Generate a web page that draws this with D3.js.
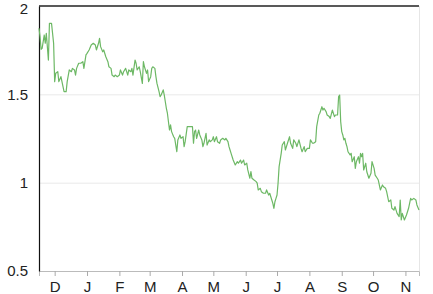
<!DOCTYPE html>
<html>
<head>
<meta charset="utf-8">
<script src="https://cdn.jsdelivr.net/npm/d3@7"></script>
<style>
    body{margin:0;background:#fff;}
    .axis text{font-family:"Liberation Sans",Arial,sans-serif;font-size:15px;fill:#222;}
</style>
</head>
<body>
<div id="plot1"></div>
<script>
// dates of the samples
const dates = [
"2015-11-16","2015-11-17","2015-11-18","2015-11-19","2015-11-21","2015-11-22","2015-11-23","2015-11-25","2015-11-26","2015-11-28","2015-11-30",
"2015-12-01","2015-12-02","2015-12-04","2015-12-05","2015-12-07","2015-12-09","2015-12-10","2015-12-12","2015-12-13","2015-12-15","2015-12-17","2015-12-18","2015-12-20","2015-12-21","2015-12-22","2015-12-24","2015-12-26","2015-12-28","2015-12-29","2015-12-31",
"2016-01-01","2016-01-03","2016-01-05","2016-01-07","2016-01-09","2016-01-10","2016-01-12","2016-01-13","2016-01-14","2016-01-16","2016-01-17","2016-01-19","2016-01-21","2016-01-22","2016-01-24","2016-01-25","2016-01-27","2016-01-28","2016-01-30",
"2016-02-01","2016-02-02","2016-02-04","2016-02-05","2016-02-07","2016-02-09","2016-02-10","2016-02-12","2016-02-13","2016-02-14","2016-02-16","2016-02-17","2016-02-18","2016-02-20","2016-02-21","2016-02-23","2016-02-24","2016-02-25","2016-02-27","2016-02-28","2016-02-29",
"2016-03-02","2016-03-03","2016-03-04","2016-03-06","2016-03-07","2016-03-08","2016-03-10","2016-03-11","2016-03-12","2016-03-14","2016-03-15","2016-03-16","2016-03-17","2016-03-18","2016-03-19","2016-03-20","2016-03-21","2016-03-22","2016-03-24","2016-03-25","2016-03-27","2016-03-28","2016-03-30","2016-03-31",
"2016-04-02","2016-04-03","2016-04-04","2016-04-06","2016-04-08","2016-04-11","2016-04-12","2016-04-13","2016-04-14","2016-04-15","2016-04-17","2016-04-18","2016-04-20","2016-04-21","2016-04-22","2016-04-24","2016-04-25","2016-04-27","2016-04-28","2016-04-30",
"2016-05-01","2016-05-02","2016-05-04","2016-05-05","2016-05-07","2016-05-08","2016-05-10","2016-05-12","2016-05-13","2016-05-15","2016-05-16","2016-05-17","2016-05-18","2016-05-20","2016-05-22","2016-05-24","2016-05-25","2016-05-27","2016-05-28","2016-05-30","2016-05-31",
"2016-06-02","2016-06-03","2016-06-05","2016-06-06","2016-06-07","2016-06-09","2016-06-11","2016-06-12","2016-06-13","2016-06-15","2016-06-16","2016-06-18","2016-06-20","2016-06-21","2016-06-23","2016-06-24","2016-06-26","2016-06-27","2016-06-28","2016-06-29","2016-06-30",
"2016-07-01","2016-07-02","2016-07-03","2016-07-05","2016-07-06","2016-07-08","2016-07-09","2016-07-11","2016-07-13","2016-07-14","2016-07-16","2016-07-17","2016-07-19","2016-07-20","2016-07-22","2016-07-24","2016-07-25","2016-07-27","2016-07-28","2016-07-30",
"2016-08-01","2016-08-02","2016-08-04","2016-08-05","2016-08-07","2016-08-08","2016-08-10","2016-08-11","2016-08-13","2016-08-14","2016-08-15","2016-08-17","2016-08-18","2016-08-20","2016-08-21","2016-08-23","2016-08-25","2016-08-26","2016-08-28","2016-08-29","2016-08-30","2016-08-31",
"2016-09-01","2016-09-02","2016-09-03","2016-09-04","2016-09-05","2016-09-06","2016-09-07","2016-09-09","2016-09-10","2016-09-11","2016-09-13","2016-09-14","2016-09-15","2016-09-17","2016-09-18","2016-09-19","2016-09-20","2016-09-21","2016-09-22","2016-09-24","2016-09-25","2016-09-27","2016-09-29","2016-09-30",
"2016-10-02","2016-10-03","2016-10-05","2016-10-06","2016-10-08","2016-10-10","2016-10-11","2016-10-13","2016-10-14","2016-10-16","2016-10-18","2016-10-19","2016-10-21","2016-10-22","2016-10-24","2016-10-26","2016-10-27","2016-10-28","2016-10-29","2016-10-31",
"2016-11-02","2016-11-04","2016-11-06","2016-11-07","2016-11-09","2016-11-11","2016-11-12","2016-11-14"
];

const values = [
1.874,1.826,1.755,1.760,1.836,1.789,1.845,1.694,1.902,1.902,1.789,
1.572,1.619,1.628,1.572,1.600,1.543,1.515,1.515,1.572,1.638,1.628,1.647,1.638,1.609,1.647,1.676,1.676,1.685,1.647,1.723,
1.732,1.751,1.779,1.789,1.779,1.751,1.789,1.817,1.770,1.741,1.751,1.713,1.685,1.656,1.647,1.609,1.600,1.609,1.600,
1.609,1.638,1.609,1.628,1.647,1.609,1.638,1.628,1.647,1.609,1.694,1.676,1.638,1.656,1.628,1.562,1.685,1.656,1.619,1.638,1.572,
1.600,1.647,1.656,1.647,1.600,1.562,1.515,1.487,1.496,1.525,1.496,1.458,1.421,1.393,1.345,1.298,1.327,1.289,1.260,1.251,1.175,1.242,1.270,1.251,
1.260,1.204,1.232,1.317,1.317,1.317,1.223,1.289,1.298,1.251,1.298,1.270,1.242,1.204,1.223,1.279,1.213,1.242,1.232,1.242,
1.260,1.232,1.260,1.232,1.223,1.242,1.251,1.242,1.251,1.232,1.204,1.185,1.166,1.128,1.100,1.119,1.110,1.128,1.110,1.128,1.100,
1.110,1.072,1.025,1.062,1.025,1.015,1.006,0.997,0.959,0.968,0.949,0.940,0.940,0.959,0.930,0.940,0.902,0.883,0.855,0.892,0.911,
0.930,0.997,1.091,1.166,1.213,1.232,1.185,1.223,1.260,1.223,1.194,1.242,1.223,1.204,1.242,1.194,1.175,1.204,1.175,1.194,
1.194,1.242,1.223,1.223,1.232,1.317,1.383,1.393,1.430,1.411,1.421,1.402,1.383,1.374,1.364,1.411,1.374,1.383,1.383,1.487,1.496,1.345,
1.289,1.270,1.242,1.251,1.223,1.204,1.175,1.157,1.166,1.119,1.147,1.081,1.119,1.147,1.110,1.166,1.147,1.166,1.072,1.110,1.062,1.025,1.053,1.119,
1.081,1.043,1.025,1.015,0.959,0.987,0.977,0.968,0.949,0.892,0.902,0.855,0.845,0.864,0.826,0.808,0.902,0.789,0.826,0.789,
0.817,0.855,0.911,0.902,0.911,0.902,0.874,0.845
];

const monthTicks = ["2015-12-01","2016-01-01","2016-02-01","2016-03-01","2016-04-01","2016-05-01","2016-06-01","2016-07-01","2016-08-01","2016-09-01","2016-10-01","2016-11-01"];
const tickLabels = ["D","J","F","M","A","M","J","J","A","S","O","N"];
const yTicks = [0.5, 1, 1.5, 2];

let plot = function(){
    const width = 433;
    const height = 294;
    const margin = {top: 6, right: 14, bottom: 23, left: 39};
    const parse = d3.timeParse("%Y-%m-%d");

    var data = dates.map((d,i)=>({date: parse(d), value: values[i]}));
    var ticks = monthTicks.map(parse);

    var svg = d3.select("#plot1").append("svg").attr("width", width).attr("height", height);

    var xScale = d3.scaleTime().domain(d3.extent(data, d=>d.date)).range([margin.left, width-margin.right]);
    var yScale = d3.scaleLinear().domain([0.5, 2]).range([height-margin.bottom, margin.top]);

    // light gridlines
    svg.append("g").selectAll("line").data([1, 1.5]).enter().append("line")
        .attr("x1", margin.left).attr("x2", width-margin.right)
        .attr("y1", d=>yScale(d)+0.5).attr("y2", d=>yScale(d)+0.5)
        .attr("stroke", "#e9e9e9");
    // dark line at the top value
    svg.append("line")
        .attr("x1", margin.left).attr("x2", width-margin.right)
        .attr("y1", yScale(2)).attr("y2", yScale(2))
        .attr("stroke", "#222").attr("stroke-width", 1.5);
    // right border
    svg.append("line")
        .attr("x1", width-margin.right+0.5).attr("x2", width-margin.right+0.5)
        .attr("y1", yScale(2)).attr("y2", yScale(0.5))
        .attr("stroke", "#e6e6e6");

    var xAxis = d3.axisBottom(xScale).tickValues(ticks).tickSize(5).tickPadding(5)
        .tickFormat((d,i)=>tickLabels[i]);
    var gx = svg.append("g").attr("class", "axis").attr("transform", "translate(0,"+(height-margin.bottom)+")").call(xAxis);
    gx.select(".domain").attr("stroke", "#bbb");
    gx.selectAll(".tick line").attr("stroke", "#aaa");

    var yAxis = d3.axisLeft(yScale).tickValues(yTicks).tickSize(0).tickPadding(11)
        .tickFormat(d3.format("~g"));
    var gy = svg.append("g").attr("class", "axis").attr("transform", "translate("+margin.left+",0)").call(yAxis);
    gy.select(".domain").attr("stroke", "#111").attr("stroke-width", 1.2);
    // keep the top label inside the picture
    gy.selectAll(".tick text").filter(d=>d==2).attr("dy", "0.52em");

    var line = d3.line().x(d=>xScale(d.date)).y(d=>yScale(d.value));
    svg.append("path").datum(data)
        .attr("d", line)
        .attr("fill", "none")
        .attr("stroke", "#6db865")
        .attr("stroke-width", 1.2)
        .attr("stroke-linejoin", "round");
}

plot();
</script>
</body>
</html>
